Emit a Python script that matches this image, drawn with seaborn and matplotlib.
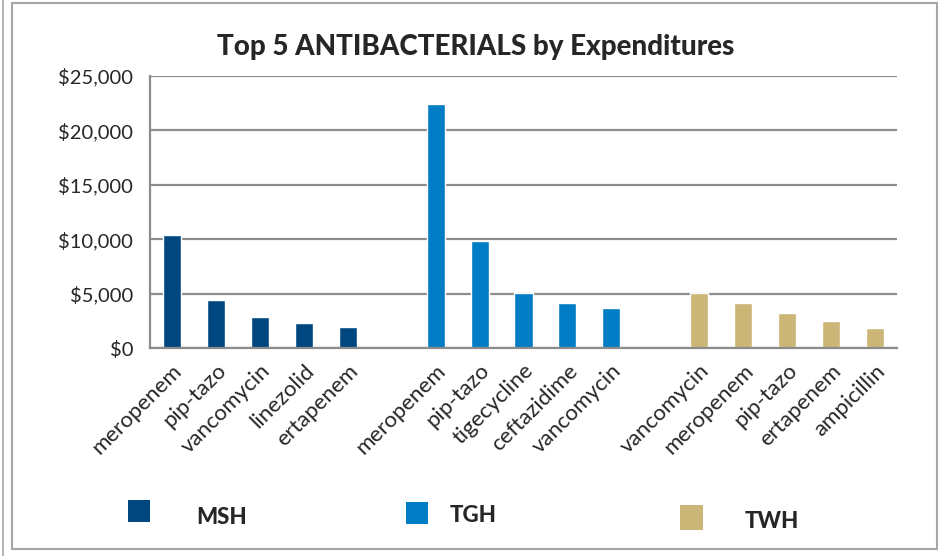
import pandas as pd
import matplotlib.pyplot as plt
import seaborn as sns
from matplotlib.patches import Rectangle
from matplotlib.lines import Line2D
from matplotlib.ticker import FuncFormatter, MultipleLocator

# Data
hospitals = ['MSH', 'TGH', 'TWH']
msh_drugs = ['meropenem', 'pip-tazo', 'vancomycin', 'linezolid', 'ertapenem']
msh_values = [10400, 4400, 2850, 2300, 1900]
tgh_drugs = ['meropenem', 'pip-tazo', 'tigecycline', 'ceftazidime', 'vancomycin']
tgh_values = [22400, 9800, 5050, 4150, 3700]
twh_drugs = ['vancomycin', 'meropenem', 'pip-tazo', 'ertapenem', 'ampicillin']
twh_values = [5100, 4150, 3200, 2500, 1850]
colors = {'MSH': '#00477f', 'TGH': '#007dc5', 'TWH': '#cbb677'}

rows = []
order = []
labels = []
for h, drugs, vals in [('MSH', msh_drugs, msh_values),
                       ('TGH', tgh_drugs, tgh_values),
                       ('TWH', twh_drugs, twh_values)]:
    for d, v in zip(drugs, vals):
        rows.append({'slot': h + '|' + d, 'drug': d, 'hospital': h, 'value': v})
        order.append(h + '|' + d)
        labels.append(d)
    if h != 'TWH':
        order.append(h + '|gap')
        labels.append('')
df = pd.DataFrame(rows)

sns.set_style('white')
plt.rcParams['font.family'] = ['Lato', 'DejaVu Sans']

fig = plt.figure(figsize=(9.43, 5.56), dpi=100)
ax = fig.add_axes([150 / 943, 1 - 348 / 556, (897 - 150) / 943, (348 - 76) / 556])

sns.barplot(data=df, x='slot', y='value', hue='hospital', order=order,
            palette=colors, dodge=False, width=0.41, saturation=1,
            legend=False, ax=ax)

ax.set_xlim(-0.5, len(order) - 0.5)
ax.set_ylim(0, 25000)
ax.yaxis.set_major_locator(MultipleLocator(5000))
ax.yaxis.set_major_formatter(FuncFormatter(lambda v, p: '${:,.0f}'.format(v)))
ax.grid(axis='y', color='#8c8c8c', linewidth=1.6)
ax.set_axisbelow(True)

ax.set_xticks(range(len(order)))
ax.set_xticklabels(labels, rotation=45, ha='right', rotation_mode='anchor', fontsize=16)
ax.set_xticks([i - 0.5 for i in range(len(order) + 1)], minor=True)
ax.tick_params(axis='x', which='major', length=0, pad=9)
ax.tick_params(axis='x', which='minor', length=7, width=1.6, color='#8c8c8c', direction='out')
ax.tick_params(axis='y', length=8, width=1.6, color='#8c8c8c', direction='out', labelsize=14.5, pad=4)
ax.set_xlabel('')
ax.set_ylabel('')

for s in ['top', 'right']:
    ax.spines[s].set_visible(False)
for s in ['left', 'bottom']:
    ax.spines[s].set_color('#8c8c8c')
    ax.spines[s].set_linewidth(1.6)

fig.text(476 / 943, 1 - 47 / 556, 'Top 5 ANTIBACTERIALS by Expenditures',
         ha='center', va='center', fontsize=20, fontweight='black')

# legend drawn as separate blocks like the original
legend_pos = [('MSH', 128, 500, 22, 22, 196, 518),
              ('TGH', 406, 502, 22, 22, 450, 516),
              ('TWH', 680, 505, 23, 25, 745, 521)]
for name, x, y, w, hgt, tx, ty in legend_pos:
    fig.patches.append(Rectangle((x / 943, 1 - (y + hgt) / 556), w / 943, hgt / 556,
                                 transform=fig.transFigure, facecolor=colors[name],
                                 edgecolor='none'))
    fig.text(tx / 943, 1 - ty / 556, name, ha='left', va='center',
             fontsize=16, fontweight='black')

# outer frame
fig.patches.append(Rectangle((12 / 943, 1 - 549 / 556), (937 - 12) / 943, (549 - 3) / 556,
                             transform=fig.transFigure, fill=False,
                             edgecolor='#a6a6a6', linewidth=1.5))
fig.lines.append(Line2D([3 / 943, 3 / 943], [0, 1], transform=fig.transFigure,
                        color='#a6a6a6', linewidth=1.2))

fig.savefig('out.png', dpi=100)
